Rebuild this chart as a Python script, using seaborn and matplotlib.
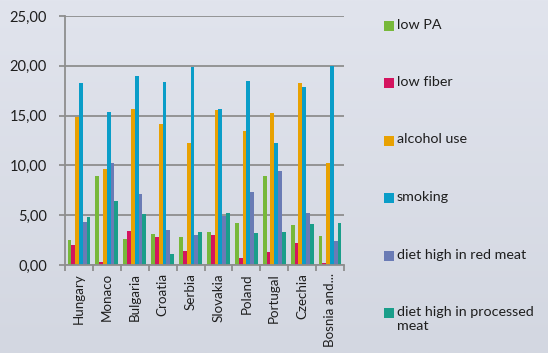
import numpy as np
import pandas as pd
import matplotlib
matplotlib.use("Agg")
import matplotlib.pyplot as plt
from matplotlib.patches import Rectangle
from matplotlib.ticker import FuncFormatter, FixedLocator
import seaborn as sns

countries = ["Hungary", "Monaco", "Bulgaria", "Croatia", "Serbia",
             "Slovakia", "Poland", "Portugal", "Czechia", "Bosnia and..."]
factors = ["low PA", "low fiber", "alcohol use", "smoking",
           "diet high in red meat", "diet high in processed\nmeat"]

low_pa = [2.5, 8.93, 2.6, 3.07, 2.8, 3.27, 4.2, 8.9, 4.0, 2.93]
low_fiber = [2.0, 0.27, 3.4, 2.83, 1.4, 3.0, 0.73, 1.33, 2.2, 0.17]
alcohol_use = [14.9, 9.63, 15.67, 14.2, 12.27, 15.57, 13.5, 15.27, 18.3, 10.2]
smoking = [18.3, 15.4, 19.0, 18.37, 19.9, 15.7, 18.5, 12.27, 17.9, 20.0]
red_meat = [4.3, 10.27, 7.1, 3.5, 3.0, 4.9, 7.37, 9.4, 5.2, 2.37]
processed_meat = [4.83, 6.47, 5.17, 1.07, 3.27, 5.2, 3.2, 3.3, 4.13, 4.17]

y_ticks = [0, 5, 10, 15, 20, 25]

colors = ["#77b83a", "#d4145f", "#e8a102", "#0a9dc8", "#6a7bb5", "#1a9e8a"]

series = [low_pa, low_fiber, alcohol_use, smoking, red_meat, processed_meat]
df = pd.DataFrame({
    "country": np.tile(countries, len(factors)),
    "factor": np.repeat(factors, len(countries)),
    "value": np.concatenate(series),
})

sns.set_theme(style="white")
plt.rcParams["font.family"] = ["Lato", "DejaVu Sans"]
text_color = "#1e1e1e"
grid_color = "#8e8e8e"

fig = plt.figure(figsize=(5.48, 3.53), dpi=100)

# soft vertical gradient behind everything
bg = fig.add_axes([0, 0, 1, 1], zorder=-10)
grad = np.linspace(0, 1, 256).reshape(-1, 1)
top_c = np.array([0xe1, 0xe4, 0xed]) / 255
bot_c = np.array([0xd3, 0xd7, 0xe1]) / 255
img = top_c[None, None, :] * (1 - grad[..., None]) + bot_c[None, None, :] * grad[..., None]
bg.imshow(img, aspect="auto", extent=[0, 1, 0, 1])
bg.set_axis_off()

ax = fig.add_axes([65 / 548, 1 - 265 / 353, (344 - 65) / 548, (265 - 16) / 353])
ax.set_facecolor("none")

sns.barplot(data=df, x="country", y="value", hue="factor", order=countries,
            hue_order=factors, palette=colors, saturation=1, width=0.82,
            gap=0, legend=False, ax=ax, zorder=3, linewidth=0)

ax.set_ylim(0, 25)
ax.set_xlim(-0.5, len(countries) - 0.5)
ax.set_xlabel("")
ax.set_ylabel("")

ax.yaxis.set_major_locator(FixedLocator(y_ticks))
ax.yaxis.set_major_formatter(FuncFormatter(lambda v, p: f"{v:.2f}".replace(".", ",")))
ax.grid(axis="y", color=grid_color, linewidth=1.3, zorder=0)
ax.set_axisbelow(True)

# tick marks sit between the category groups; labels sit under group centres
ax.set_xticks(np.arange(len(countries) + 1) - 0.5)
ax.set_xticklabels([])
ax.set_xticks(np.arange(len(countries)), minor=True)
ax.set_xticklabels(countries, minor=True, rotation=90, fontsize=9.6, color=text_color)
ax.tick_params(axis="x", which="major", length=4, width=1.3, color=grid_color, direction="out", bottom=True)
ax.tick_params(axis="x", which="minor", length=0, pad=6)
ax.tick_params(axis="y", length=4, width=1.3, color=grid_color, direction="out", left=True,
               labelsize=10.5, labelcolor=text_color, pad=9)

for side in ["top", "right"]:
    ax.spines[side].set_visible(False)
for side in ["left", "bottom"]:
    ax.spines[side].set_color(grid_color)
    ax.spines[side].set_linewidth(1.3)
    ax.spines[side].set_zorder(4)

# legend column on the right
legend_y = [26, 83, 140.5, 198, 256, 313]
for label, col, yc in zip(factors, colors, legend_y):
    fig.add_artist(Rectangle((384 / 548, 1 - (yc + 5) / 353), 9.5 / 548, 10 / 353,
                             transform=fig.transFigure, facecolor=col, edgecolor="none"))
    fig.text(397 / 548, 1 - (yc - 7) / 353, label, fontsize=10.3, color=text_color,
             va="top", ha="left", linespacing=1.25)

fig.savefig("out.png", dpi=100)
